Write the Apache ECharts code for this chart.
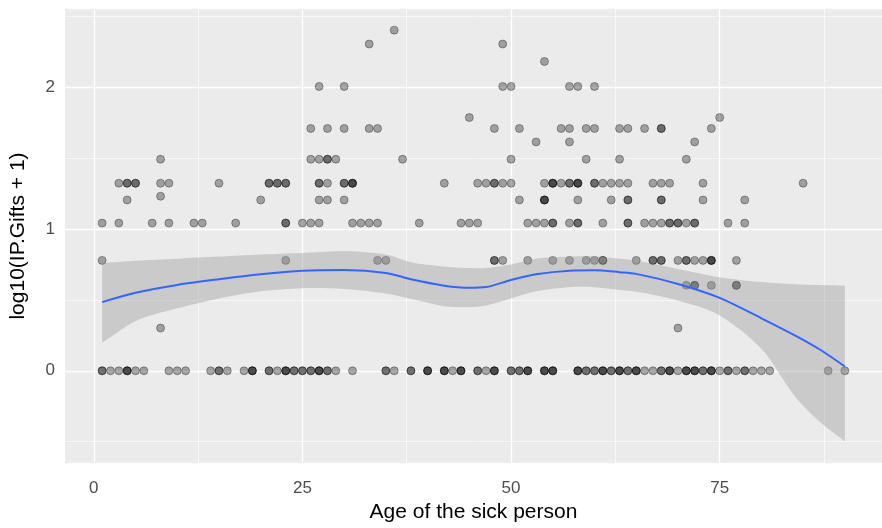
<!DOCTYPE html>
<html>
<head>
<meta charset="utf-8">
<script src="https://cdn.jsdelivr.net/npm/echarts@6/dist/echarts.min.js"></script>
<style>
  html, body { margin: 0; padding: 0; background: #ffffff; }
  #chart { width: 882px; height: 528px; }
</style>
</head>
<body>
<div id="chart"></div>
<script>
// log10(IP.Gifts + 1) levels and the ages observed at each level
// (repeated ages are overlapping observations).
const giftLevels = [0, 0.301, 0.602, 0.778, 1.041, 1.204, 1.230, 1.322, 1.491, 1.613, 1.708, 1.785, 2.004, 2.180, 2.303, 2.401];
const agesAtLevel = [
  [1,1,2,3,4,4,4,5,6,9,10,11,14,15,15,16,18,19,19,19,21,21,22,23,23,23,24,24,25,25,26,26,27,27,27,28,28,29,
   31,35,35,36,38,38,40,40,40,42,42,42,43,44,44,44,46,46,47,48,48,48,50,50,51,51,52,52,52,54,54,54,55,55,55,
   58,58,58,59,59,60,60,61,61,61,62,62,63,63,63,64,64,65,65,65,66,67,68,68,69,69,69,70,71,71,71,72,72,72,
   73,73,74,74,74,75,76,76,77,78,78,79,80,81,88,90],
  [8,70],
  [71,72,72,74,77,77],
  [1,23,34,35,48,48,49,52,55,57,59,60,61,61,65,67,67,68,68,70,71,71,72,73,74,74,74,77],
  [1,3,7,9,12,13,17,23,23,25,26,27,31,32,33,34,39,44,45,46,52,53,54,55,55,57,58,58,61,64,64,66,67,68,69,69,70,70,71,72,72,76,78],
  [4,20,27,28,30,51,54,54,54,58,62,64,64,68,68,73,78],
  [8],
  [3,4,4,5,5,8,9,15,21,21,22,22,23,23,27,27,28,30,30,31,31,31,42,46,47,48,48,49,50,54,55,55,55,56,57,57,58,58,58,60,60,61,62,63,64,67,68,69,73,85],
  [8,26,27,28,28,29,37,50,59,63,71],
  [53,57,72],
  [26,28,30,33,34,48,51,56,57,59,60,63,64,66,68,68,74],
  [45,75],
  [27,30,49,50,57,58,60],
  [54],
  [33,49],
  [36]
];

// Loess fit and its confidence band
const smoothAge   = [1, 5, 10, 15, 20, 25, 30, 35, 38, 42, 45, 47, 50, 53, 57, 60, 63, 65, 70, 75, 80, 84, 87, 90];
const smoothFit   = [0.484, 0.55, 0.605, 0.645, 0.68, 0.705, 0.71, 0.69, 0.645, 0.60, 0.585, 0.59, 0.64, 0.68, 0.705, 0.708, 0.695, 0.683, 0.612, 0.514, 0.37, 0.25, 0.15, 0.03];
const smoothLower = [0.197, 0.35, 0.44, 0.51, 0.56, 0.582, 0.577, 0.545, 0.507, 0.455, 0.448, 0.46, 0.51, 0.56, 0.589, 0.589, 0.57, 0.558, 0.495, 0.39, 0.155, -0.18, -0.36, -0.498];
const smoothUpper = [0.758, 0.775, 0.79, 0.805, 0.82, 0.831, 0.843, 0.82, 0.765, 0.735, 0.725, 0.725, 0.75, 0.79, 0.805, 0.805, 0.79, 0.777, 0.718, 0.66, 0.625, 0.61, 0.605, 0.60];

// Axis breaks
const xMajorTicks = [0, 25, 50, 75];
const xMinorTicks = [12.5, 37.5, 62.5, 87.5];
const yMajorTicks = [0, 1, 2];
const yMinorTicks = [-0.5, 0.5, 1.5, 2.5];

const FONT = "'Liberation Sans', Arial, sans-serif";

const points = [];
giftLevels.forEach(function (lvl, i) {
  agesAtLevel[i].forEach(function (age) { points.push([age, lvl]); });
});

const fitLine = smoothAge.map(function (a, i) { return [a, smoothFit[i]]; });

function gridLines(axisKey, values, width) {
  return values.map(function (v) {
    const d = { lineStyle: { color: '#ffffff', width: width, type: 'solid', opacity: 1 } };
    d[axisKey] = v;
    return d;
  });
}

// Confidence ribbon: upper edge left->right, lower edge right->left.
// Corner vertices are doubled so the smoothed outline keeps square ends.
function renderRibbon(params, api) {
  if (params.dataIndex !== 0) return null;
  const n = smoothAge.length;
  const top = [], bottom = [];
  for (let i = 0; i < n; i++) top.push(api.coord([smoothAge[i], smoothUpper[i]]));
  for (let i = n - 1; i >= 0; i--) bottom.push(api.coord([smoothAge[i], smoothLower[i]]));
  const outline = [top[0]].concat(top, [top[n - 1]], [bottom[0]], bottom, [bottom[n - 1]]);
  return {
    type: 'polygon',
    shape: { points: outline, smooth: 0.3, smoothConstraint: false },
    style: { fill: 'rgba(153,153,153,0.4)', stroke: null },
    silent: true
  };
}

const chart = echarts.init(document.getElementById('chart'), null, { renderer: 'canvas' });
chart.setOption({
  animation: false,
  backgroundColor: '#ffffff',
  textStyle: { fontFamily: FONT },
  grid: {
    left: 65, top: 9, width: 828, height: 455,
    show: true, backgroundColor: '#EBEBEB', borderWidth: 0
  },
  xAxis: {
    type: 'value', min: -3.45, max: 94.45,
    axisLine: { show: false },
    axisTick: { show: true, customValues: xMajorTicks, length: 4, lineStyle: { color: '#333333', width: 1 } },
    axisLabel: { customValues: xMajorTicks, color: '#4D4D4D', fontSize: 17, margin: 17, fontFamily: FONT },
    splitLine: { show: false },
    name: 'Age of the sick person',
    nameLocation: 'middle', nameGap: 39,
    nameTextStyle: { color: '#000000', fontSize: 21, fontFamily: FONT }
  },
  yAxis: {
    type: 'value', min: -0.65, max: 2.55,
    axisLine: { show: false },
    axisTick: { show: true, customValues: yMajorTicks, length: 4, lineStyle: { color: '#333333', width: 1 } },
    axisLabel: { customValues: yMajorTicks, color: '#4D4D4D', fontSize: 17, margin: 10, fontFamily: FONT },
    splitLine: { show: false },
    name: 'log10(IP.Gifts + 1)',
    nameLocation: 'middle', nameGap: 36, nameRotate: 90,
    nameTextStyle: { color: '#000000', fontSize: 21, fontFamily: FONT }
  },
  series: [
    {
      name: 'grid', type: 'line', data: [], silent: true, z: 1,
      markLine: {
        silent: true, z: 1, animation: false,
        symbol: ['none', 'none'],
        label: { show: false },
        emphasis: { disabled: true },
        data: [].concat(
          gridLines('xAxis', xMinorTicks, 0.6),
          gridLines('yAxis', yMinorTicks, 0.6),
          gridLines('xAxis', xMajorTicks, 1.3),
          gridLines('yAxis', yMajorTicks, 1.3)
        )
      }
    },
    {
      name: 'gifts', type: 'scatter', data: points, z: 2,
      symbol: 'circle', symbolSize: 8,
      itemStyle: { color: 'rgba(0,0,0,0.4)', borderColor: 'rgba(0,0,0,0.4)', borderWidth: 1 },
      emphasis: { disabled: true }
    },
    {
      name: 'ribbon', type: 'custom', z: 3, silent: true,
      data: [[smoothAge[0], smoothFit[0]]],
      renderItem: renderRibbon
    },
    {
      name: 'loess', type: 'line', data: fitLine, z: 4,
      smooth: 0.3, symbol: 'none', silent: true,
      lineStyle: { color: '#3366FF', width: 2 }
    }
  ]
});
</script>
</body>
</html>
